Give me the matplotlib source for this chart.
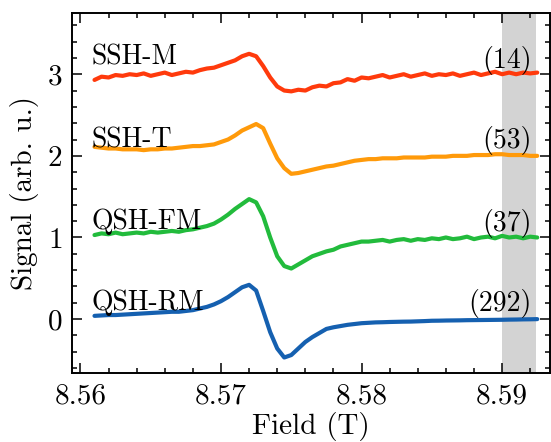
"""
ESR spectra of the four samples, stacked with offsets
"""
import matplotlib
matplotlib.use("Agg")
import matplotlib.pyplot as plt
import numpy as np
from matplotlib.ticker import MultipleLocator

# field grid (T), 0.5 mT steps
field = np.round(np.arange(64) * 0.0005 + 8.5610, 4)

sig_qsh_rm = [0.04, 0.045, 0.05, 0.05, 0.055, 0.06, 0.065, 0.07, 0.075, 0.08,
              0.085, 0.09, 0.09, 0.10, 0.11, 0.13, 0.15, 0.18, 0.22, 0.27,
              0.33, 0.39, 0.42, 0.35, 0.10, -0.16, -0.36, -0.47, -0.44, -0.36,
              -0.28, -0.22, -0.17, -0.12, -0.10, -0.085, -0.07, -0.06, -0.05, -0.045,
              -0.04, -0.038, -0.035, -0.033, -0.031, -0.03, -0.027, -0.024, -0.02, -0.019,
              -0.017, -0.016, -0.015, -0.013, -0.012, -0.011, -0.01, -0.009, -0.008, -0.006,
              -0.005, -0.003, -0.002, 0.0]

sig_qsh_fm = [1.03, 1.05, 1.04, 1.06, 1.04, 1.05, 1.06, 1.05, 1.07, 1.06,
              1.07, 1.08, 1.07, 1.09, 1.10, 1.12, 1.14, 1.17, 1.22, 1.28,
              1.35, 1.41, 1.47, 1.43, 1.26, 1.00, 0.77, 0.65, 0.62, 0.67,
              0.72, 0.77, 0.80, 0.83, 0.85, 0.89, 0.91, 0.93, 0.95, 0.95,
              0.96, 0.97, 0.95, 0.97, 0.98, 0.96, 0.98, 0.97, 0.99, 0.98,
              1.00, 0.98, 0.99, 1.01, 0.98, 1.00, 1.01, 0.99, 1.02, 1.00,
              1.01, 0.99, 1.01, 1.00]

sig_ssh_t = [2.11, 2.10, 2.09, 2.09, 2.08, 2.08, 2.08, 2.07, 2.08, 2.08,
             2.09, 2.09, 2.10, 2.11, 2.12, 2.12, 2.13, 2.14, 2.17, 2.20,
             2.25, 2.31, 2.35, 2.39, 2.34, 2.15, 1.97, 1.85, 1.78, 1.79,
             1.81, 1.83, 1.85, 1.87, 1.88, 1.90, 1.92, 1.94, 1.95, 1.96,
             1.96, 1.97, 1.97, 1.97, 1.98, 1.98, 1.98, 1.98, 1.99, 1.99,
             1.99, 2.00, 2.00, 2.00, 2.01, 2.01, 2.01, 2.02, 2.02, 2.01,
             2.01, 2.01, 2.00, 2.00]

sig_ssh_m = [2.93, 2.97, 2.96, 2.99, 2.98, 3.00, 2.99, 3.01, 2.98, 3.00,
             3.02, 2.99, 3.01, 3.03, 3.02, 3.05, 3.07, 3.08, 3.11, 3.14,
             3.17, 3.22, 3.25, 3.22, 3.10, 2.96, 2.85, 2.80, 2.79, 2.81,
             2.80, 2.84, 2.86, 2.85, 2.89, 2.90, 2.94, 2.92, 2.96, 2.95,
             2.97, 2.99, 2.96, 2.98, 3.00, 2.97, 2.99, 3.01, 2.98, 3.00,
             2.99, 3.01, 2.98, 3.00, 3.02, 2.99, 3.01, 3.03, 3.00, 3.02,
             3.00, 3.02, 3.01, 3.02]

names = ["QSH-RM", "QSH-FM", "SSH-T", "SSH-M"]
counts = ["(292)", "(37)", "(53)", "(14)"]
name_y = [0.11, 1.10, 2.10, 3.12]
count_y = [0.10, 1.08, 2.10, 3.08]
colors = ["#1560b0", "#22bb3c", "#ff9a0a", "#ff3a0c"]

plt.rcParams["font.family"] = "cmr10"
plt.rcParams["mathtext.fontset"] = "cm"
plt.rcParams["axes.formatter.use_mathtext"] = True
plt.rcParams["font.size"] = 21

fig, ax = plt.subplots(figsize=(5.51, 4.42), dpi=100)
fig.subplots_adjust(left=0.1307, right=0.998, top=0.9706, bottom=0.1561)

# grey window used for the noise estimate
ax.axvspan(8.590, 8.5924, color="#d3d3d3", lw=0, zorder=0)

for sig, color in zip([sig_qsh_rm, sig_qsh_fm, sig_ssh_t, sig_ssh_m], colors):
    ax.plot(field, sig, color=color, lw=3.0, solid_joinstyle="round",
            solid_capstyle="round")

for name, yn, cnt, yc in zip(names, name_y, counts, count_y):
    ax.text(8.5608, yn, name, fontsize=20, ha="left", va="baseline")
    ax.text(8.5921, yc, cnt, fontsize=20, ha="right", va="baseline")

ax.set_xlim(8.5594, 8.5934)
ax.set_ylim(-0.66, 3.75)
ax.set_xticks([8.56, 8.57, 8.58, 8.59])
ax.set_xticklabels(["8.56", "8.57", "8.58", "8.59"])
ax.set_yticks([0, 1, 2, 3])
ax.xaxis.set_minor_locator(MultipleLocator(0.002))
ax.yaxis.set_minor_locator(MultipleLocator(0.2))
ax.tick_params(which="both", direction="in", top=True, right=True, width=1.1)
ax.tick_params(which="major", length=7, pad=7)
ax.tick_params(which="minor", length=3.5)
for sp in ax.spines.values():
    sp.set_linewidth(1.4)

ax.set_xlabel("Field (T)", labelpad=2)
ax.set_ylabel("Signal (arb. u.)", labelpad=6)

plt.savefig("out.png", dpi=100)
plt.close(fig)
